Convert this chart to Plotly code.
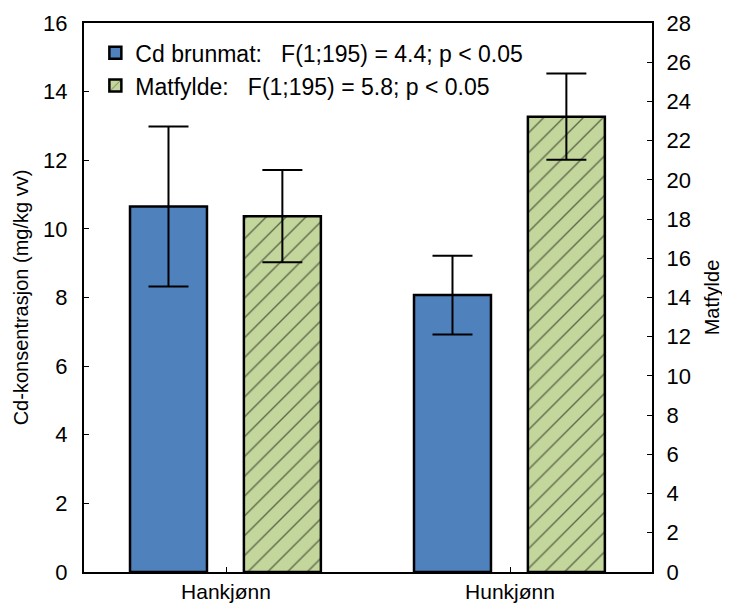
import plotly.graph_objects as go

categories = ["Hankjønn", "Hunkjønn"]
cd_values = [10.65, 8.07]
cd_errors = [2.33, 1.15]
matfylde_values = [18.15, 23.22]
matfylde_errors = [2.35, 2.2]

cd_label = "Cd brunmat:\u00a0\u00a0\u00a0F(1;195) = 4.4; p < 0.05"
mf_label = "Matfylde:\u00a0\u00a0\u00a0F(1;195) = 5.8; p < 0.05"

FONT = "Liberation Sans, Arial, sans-serif"

fig = go.Figure()
fig.add_trace(go.Bar(
    x=categories, y=cd_values, name=cd_label,
    marker=dict(color="#4f81bd", line=dict(color="black", width=2.5)),
    error_y=dict(type="data", array=cd_errors, color="black", thickness=2, width=20),
    width=0.271, offset=-0.338, yaxis="y", legendgroup="a",
))
fig.add_trace(go.Bar(
    x=categories, y=matfylde_values, name=mf_label,
    marker=dict(color="#c3d69b", line=dict(color="black", width=2.5),
                pattern=dict(shape="/", fgcolor="black", bgcolor="#c3d69b", size=14, solidity=0.1)),
    error_y=dict(type="data", array=matfylde_errors, color="black", thickness=2, width=20),
    width=0.271, offset=0.063, yaxis="y2", legendgroup="b",
))

# page body has an 8px default margin; figure sized/offset to compensate
fig.update_layout(
    width=722, height=597,
    margin=dict(l=76, r=78, t=15, b=33),
    paper_bgcolor="white", plot_bgcolor="white",
    font=dict(family=FONT, size=20, color="black"),
    barmode="overlay",
    showlegend=True,
    legend=dict(x=0.02, y=0.985, xanchor="left", yanchor="top",
                font=dict(size=23), bgcolor="rgba(0,0,0,0)", tracegroupgap=1,
                traceorder="normal"),
    xaxis=dict(showline=True, linecolor="black", linewidth=2, mirror=True,
               ticks="inside", ticklen=5, tickcolor="black", showgrid=False,
               tickfont=dict(size=21), ticklabelstandoff=0, automargin=False),
    yaxis=dict(range=[0, 16], dtick=2, showline=True, linecolor="black", linewidth=2,
               ticks="inside", ticklen=5, tickcolor="black", showgrid=False, zeroline=False,
               tickfont=dict(size=22), ticklabelstandoff=10, automargin=False,
               title=dict(text="Cd-konsentrasjon (mg/kg vv)", font=dict(size=20), standoff=9)),
    yaxis2=dict(range=[0, 28], dtick=2, overlaying="y", side="right",
                showline=True, linecolor="black", linewidth=2,
                ticks="inside", ticklen=5, tickcolor="black", showgrid=False, zeroline=False,
                tickfont=dict(size=22), ticklabelstandoff=8, automargin=False,
                title=dict(text="Matfylde", font=dict(size=20), standoff=15)),
)

fig.write_html("out.html")
